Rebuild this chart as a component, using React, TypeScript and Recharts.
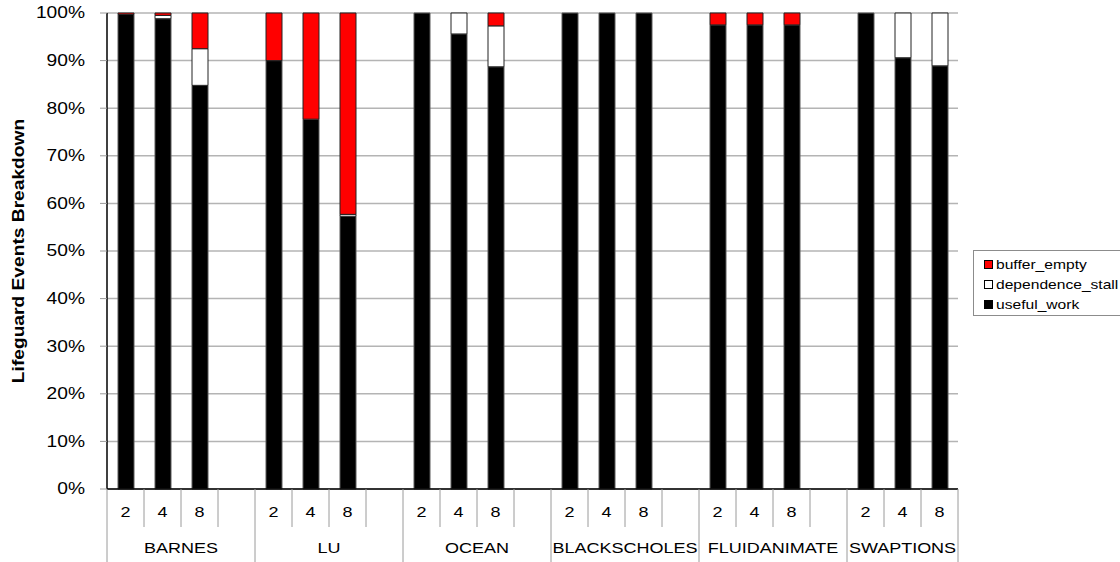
import React from "react"
import { BarChart, Bar, XAxis, YAxis, CartesianGrid } from "recharts"

// benchmarks, 4 slots each (2, 4, 8 threads + a spacer), last group has no spacer
const benchmarks = ["BARNES", "LU", "OCEAN", "BLACKSCHOLES", "FLUIDANIMATE", "SWAPTIONS"]
const slotLabels = [
    "2", "4", "8", "",
    "2", "4", "8", "",
    "2", "4", "8", "",
    "2", "4", "8", "",
    "2", "4", "8", "",
    "2", "4", "8",
]
const slotGroup = [0, 0, 0, 0, 1, 1, 1, 1, 2, 2, 2, 2, 3, 3, 3, 3, 4, 4, 4, 4, 5, 5, 5]

// percentages
const usefulWork = [99.7, 98.8, 84.8, null, 90, 77.7, 57.3, null, 100, 95.6, 88.7, null, 100, 100, 100, null, 97.5, 97.5, 97.5, null, 100, 90.6, 88.9]
const dependenceStall = [0, 0.7, 7.7, null, 0, 0, 0.4, null, 0, 4.4, 8.6, null, 0, 0, 0, null, 0, 0, 0, null, 0, 9.4, 11.1]
const bufferEmpty = [0.3, 0.5, 7.5, null, 10, 22.3, 42.3, null, 0, 0, 2.7, null, 0, 0, 0, null, 2.5, 2.5, 2.5, null, 0, 0, 0]

const yTicks = [0, 10, 20, 30, 40, 50, 60, 70, 80, 90, 100]

const data = slotLabels.map((label, i) => ({
    key: `s${i}`,
    label,
    group: slotGroup[i],
    useful_work: usefulWork[i],
    dependence_stall: dependenceStall[i],
    buffer_empty: bufferEmpty[i],
}))

const W = 1120
const H = 562
const PLOT_LEFT = 107
const PLOT_RIGHT = 958
const SLOT_W = (PLOT_RIGHT - PLOT_LEFT) / data.length
const FONT = "'Liberation Sans', Arial, sans-serif"
// the original export uses a horizontally stretched Arial
const STRETCH = 1.2

const WideText = ({ x, y, children, size = 15, anchor = "middle", bold = false, rotate = 0 }: any) => (
    <text
        transform={`translate(${x},${y}) rotate(${rotate}) scale(${STRETCH},1)`}
        x={0}
        y={0}
        textAnchor={anchor}
        dominantBaseline="central"
        fontSize={size}
        fontWeight={bold ? "bold" : "normal"}
        fontFamily={FONT}
        fill="#000"
    >
        {children}
    </text>
)

const CategoryTick = (props: any) => {
    const { x, y, payload } = props
    const i = payload.index
    const row = data[i]
    const left = x - SLOT_W / 2
    const groupStart = i === 0 || data[i - 1].group !== row.group
    const groupSlots = data.filter((d) => d.group === row.group).length
    const isLast = i === data.length - 1
    return (
        <g>
            <line x1={left} y1={y} x2={left} y2={groupStart ? H : y + 38} stroke="#9a9a9a" strokeWidth={1} />
            {isLast && <line x1={x + SLOT_W / 2} y1={y} x2={x + SLOT_W / 2} y2={H} stroke="#9a9a9a" strokeWidth={1} />}
            <WideText x={x} y={y + 23}>{row.label}</WideText>
            {groupStart && (
                <WideText x={left + (groupSlots * SLOT_W) / 2} y={y + 59}>
                    {benchmarks[row.group]}
                </WideText>
            )}
        </g>
    )
}

const PercentTick = (props: any) => {
    const { x, y, payload } = props
    return (
        <WideText x={x} y={y} anchor="end" size={16}>
            {`${payload.value}%`}
        </WideText>
    )
}

const YTitle = (props: any) => {
    const vb = props.viewBox || { y: 13, height: 476 }
    const cy = vb.y + vb.height / 2
    return (
        <WideText x={19} y={cy} rotate={-90} size={16} bold>
            Lifeguard Events Breakdown
        </WideText>
    )
}

const legendItems = [
    { name: "buffer_empty", color: "#ff0000" },
    { name: "dependence_stall", color: "#ffffff" },
    { name: "useful_work", color: "#000000" },
]

export default function App() {
    return (
        <div style={{ position: "absolute", left: 0, top: 0, width: W, height: H, background: "#fff", overflow: "hidden" }}>
            <BarChart
                width={W}
                height={H}
                data={data}
                margin={{ top: 13, right: W - PLOT_RIGHT, bottom: 0, left: 0 }}
                barSize={16}
                barCategoryGap={0}
            >
                <CartesianGrid horizontal vertical={false} stroke="#b4b4b4" strokeWidth={1.5} />
                <XAxis
                    dataKey="key"
                    type="category"
                    interval={0}
                    height={H - 489}
                    tickLine={false}
                    tickSize={0}
                    tickMargin={0}
                    axisLine={{ stroke: "#000", strokeWidth: 1.5 }}
                    tick={<CategoryTick />}
                />
                <YAxis
                    width={PLOT_LEFT}
                    domain={[0, 100]}
                    ticks={yTicks}
                    interval={0}
                    tickSize={7}
                    tickMargin={15}
                    tickLine={{ stroke: "#9a9a9a" }}
                    axisLine={{ stroke: "#000", strokeWidth: 1.5 }}
                    tick={<PercentTick />}
                    label={{ content: <YTitle /> }}
                />
                <Bar dataKey="useful_work" stackId="a" fill="#000000" stroke="#5a5a5a" strokeWidth={1} isAnimationActive={false} />
                <Bar dataKey="dependence_stall" stackId="a" fill="#ffffff" stroke="#222" strokeWidth={1} isAnimationActive={false} />
                <Bar dataKey="buffer_empty" stackId="a" fill="#ff0000" stroke="#222" strokeWidth={1} isAnimationActive={false} />
            </BarChart>
            <div
                style={{
                    position: "absolute",
                    left: 973,
                    top: 250,
                    width: 160,
                    height: 66,
                    border: "1px solid #8c8c8c",
                    boxSizing: "border-box",
                    fontFamily: FONT,
                    fontSize: 13,
                    paddingTop: 3,
                }}
            >
                {legendItems.map((it) => (
                    <div key={it.name} style={{ display: "flex", alignItems: "center", height: 20, paddingLeft: 10 }}>
                        <span
                            style={{
                                display: "inline-block",
                                width: 7,
                                height: 7,
                                background: it.color,
                                border: "1px solid #000",
                                marginRight: 3,
                            }}
                        />
                        <span style={{ display: "inline-block", transform: `scaleX(${STRETCH})`, transformOrigin: "left center" }}>
                            {it.name}
                        </span>
                    </div>
                ))}
            </div>
        </div>
    )
}
